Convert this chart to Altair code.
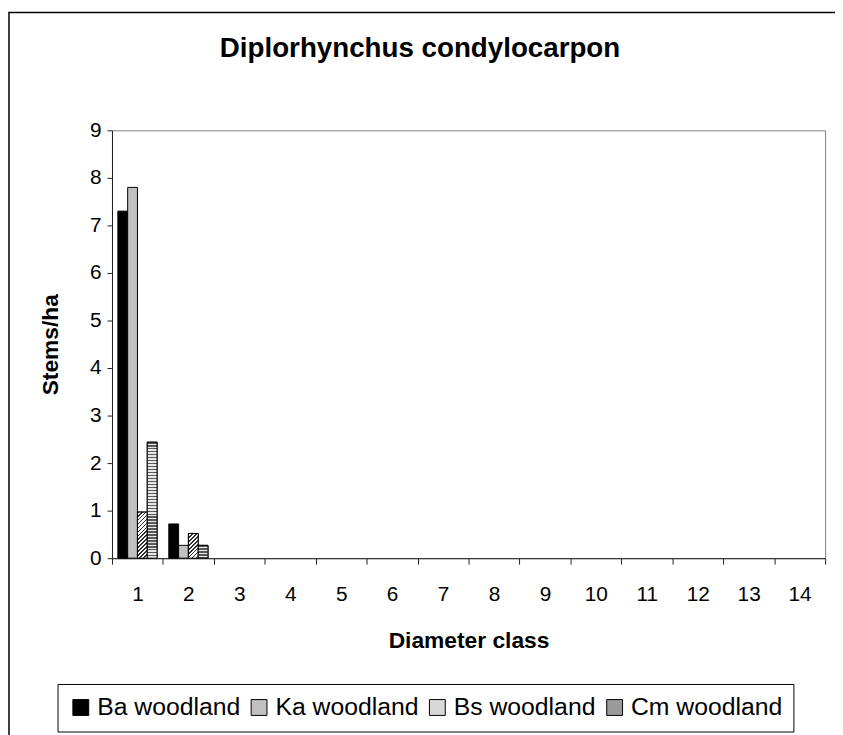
import altair as alt
import pandas as pd

# ---------------- data ----------------
classes = ["1", "2", "3", "4", "5", "6", "7", "8", "9", "10", "11", "12", "13", "14"]
series = ["Ba woodland", "Ka woodland", "Bs woodland", "Cm woodland"]
ba_values = [7.3, 0.72, 0, 0, 0, 0, 0, 0, 0, 0, 0, 0, 0, 0]
ka_values = [7.8, 0.27, 0, 0, 0, 0, 0, 0, 0, 0, 0, 0, 0, 0]
bs_values = [0.97, 0.52, 0, 0, 0, 0, 0, 0, 0, 0, 0, 0, 0, 0]
cm_values = [2.44, 0.27, 0, 0, 0, 0, 0, 0, 0, 0, 0, 0, 0, 0]
y_ticks = [0, 1, 2, 3, 4, 5, 6, 7, 8, 9]
series_colors = ["#000000", "#c0c0c0", "#d8d8d8", "#9a9a9a"]

all_values = [ba_values, ka_values, bs_values, cm_values]
rows = []
for s, vals in zip(series, all_values):
    for c, v in zip(classes, vals):
        rows.append({"cls": c, "series": s, "value": v})
df = pd.DataFrame(rows)

# ---------------- layout ----------------
W, H = 720, 432
YMAX = 9
PX_PER_UNIT = H / YMAX
STEP = W / len(classes)
OFF_PAD = 0.6
BAR_W = STEP / (len(series) + 2 * OFF_PAD)
FONT = "Liberation Sans"


def hstripes(h, period=3.0, dark="#585858", light="#e8e8e8", frac=0.45):
    stops = []
    i = 0
    while i * period < h:
        t0 = i * period / h
        t1 = min((i * period + period * frac) / h, 1.0)
        t2 = min((i + 1) * period / h, 1.0)
        stops += [
            {"offset": t0, "color": dark},
            {"offset": t1, "color": dark},
            {"offset": t1, "color": light},
            {"offset": t2, "color": light},
        ]
        i += 1
    return {"gradient": "linear", "x1": 0, "y1": 0, "x2": 0, "y2": 1, "stops": stops}


def diag(w, h, period=2.8, dark="#303030", light="#ffffff", frac=0.4):
    r = w / h
    k = (1 + r) / (1 + r * r)
    span = (w + h) / (2 ** 0.5)
    stops = []
    i = 0
    while i * period < span:
        t0 = i * period / span
        t1 = min((i * period + period * frac) / span, 1.0)
        t2 = min((i + 1) * period / span, 1.0)
        stops += [
            {"offset": t0, "color": dark},
            {"offset": t1, "color": dark},
            {"offset": t1, "color": light},
            {"offset": t2, "color": light},
        ]
        i += 1
    return {"gradient": "linear", "x1": 0, "y1": 0, "x2": k * r, "y2": k, "stops": stops}


axis_common = dict(
    labelFont=FONT,
    labelFontSize=21,
    labelColor="#000000",
    titleFont=FONT,
    titleFontSize=23,
    titleFontWeight="bold",
    titleColor="#000000",
    domainColor="#202020",
    tickColor="#202020",
    grid=False,
)

x_enc = alt.X(
    "cls:N",
    sort=classes,
    scale=alt.Scale(domain=classes, paddingInner=0, paddingOuter=0),
    axis=alt.Axis(
        title="Diameter class",
        labelAngle=0,
        tickBand="extent",
        tickSize=6,
        labelPadding=20,
        titlePadding=25,
        **axis_common,
    ),
)
xo_enc = alt.XOffset(
    "series:N",
    sort=series,
    scale=alt.Scale(domain=series, paddingInner=0, paddingOuter=OFF_PAD),
)
y_enc = alt.Y(
    "value:Q",
    scale=alt.Scale(domain=[0, YMAX], nice=False, zero=True),
    axis=alt.Axis(
        title="Stems/ha",
        values=y_ticks,
        tickSize=5,
        labelPadding=6,
        titlePadding=27,
        **axis_common,
    ),
)

main = (
    alt.Chart(df)
    .transform_filter("datum.value > 0")
    .mark_bar(stroke="#000000", strokeWidth=1)
    .encode(
        x=x_enc,
        xOffset=xo_enc,
        y=y_enc,
        color=alt.Color(
            "series:N",
            sort=series,
            scale=alt.Scale(domain=series, range=series_colors),
            legend=alt.Legend(
                title=None,
                orient="none",
                legendX=-55,
                legendY=559,
                direction="horizontal",
                symbolType="square",
                symbolSize=256,
                symbolStrokeColor="#000000",
                symbolStrokeWidth=1,
                labelFontSize=25,
                labelFont=FONT,
                labelColor="#000000",
                labelOffset=4,
                columnPadding=6,
                padding=11,
                strokeColor="#000000",
                fillColor="#ffffff",
            ),
        ),
    )
)

layers = [main]
for s, vals, kind in [("Bs woodland", bs_values, "diag"), ("Cm woodland", cm_values, "h")]:
    for c, v in zip(classes, vals):
        if v <= 0:
            continue
        h_px = v * PX_PER_UNIT
        grad = diag(BAR_W, h_px) if kind == "diag" else hstripes(h_px)
        layers.append(
            alt.Chart(df)
            .transform_filter(f"datum.series === '{s}' && datum.cls === '{c}'")
            .mark_bar(fill=grad, stroke="#000000", strokeWidth=1)
            .encode(x=x_enc, xOffset=xo_enc, y=y_enc)
        )

frame = (
    alt.Chart(pd.DataFrame({"d": [0]}))
    .mark_rect(fill="transparent", stroke="#000000", strokeWidth=1.5)
    .encode(
        x=alt.value(-104),
        x2=alt.value(W + 80),
        y=alt.value(-119),
        y2=alt.value(H + 300),
    )
)
layers.append(frame)

chart = (
    alt.layer(*layers)
    .properties(
        width=W,
        height=H,
        padding={"left": 105, "top": 120, "right": 10, "bottom": 175},
        autosize=alt.AutoSizeParams(type="none"),
        background="#ffffff",
        title=alt.TitleParams(
            "Diplorhynchus condylocarpon",
            font=FONT,
            fontSize=28,
            fontWeight="bold",
            anchor="middle",
            frame="group",
            dx=-49,
            dy=74,
            offset=0,
            baseline="alphabetic",
            color="#000000",
        ),
    )
    .configure_view(stroke="#808080", strokeWidth=1)
)

chart.save("out.html", embed_options={"renderer": "svg", "actions": False})
